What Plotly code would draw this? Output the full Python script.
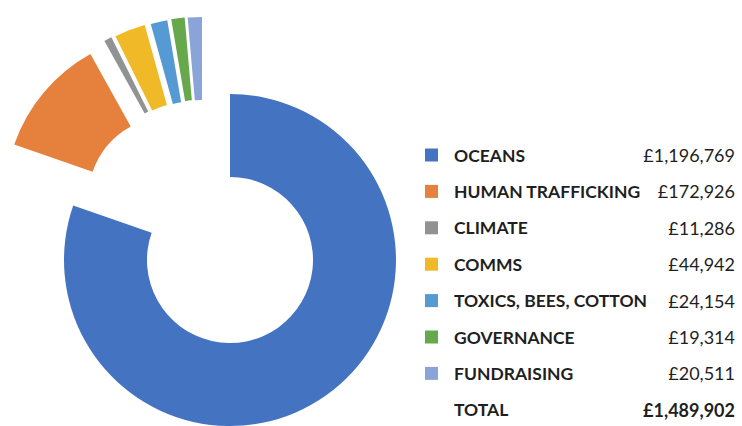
import plotly.graph_objects as go

# ---- data ----
categories = ["OCEANS", "HUMAN TRAFFICKING", "CLIMATE", "COMMS",
              "TOXICS, BEES, COTTON", "GOVERNANCE", "FUNDRAISING"]
values = [1196769, 172926, 11286, 44942, 24154, 19314, 20511]
total_label = "TOTAL"
total_value = 1489902

colors = ["#4473C1", "#E5803D", "#8F9394", "#F0B928",
          "#559AD2", "#66A84B", "#8BA4D8"]

# ---- layout (pixel geometry) ----
W, H = 742, 426
R = 166                      # outer radius in px
HOLE = 0.5
# centre of each (exploded) slice, in px
centers = [(230, 260), (171, 199), (185, 186), (189, 185),
           (195, 184), (199, 183), (202, 183)]

fig = go.Figure()
for i, (cx, cy) in enumerate(centers):
    slice_colors = [colors[j] if j == i else "rgba(0,0,0,0)" for j in range(len(values))]
    fig.add_trace(go.Pie(
        labels=categories,
        values=values,
        sort=False,
        direction="clockwise",
        rotation=0,
        hole=HOLE,
        marker=dict(colors=slice_colors, line=dict(width=0)),
        textinfo="none",
        hoverinfo="skip",
        showlegend=False,
        domain=dict(x=[(cx - R) / W, (cx + R) / W],
                    y=[1 - (cy + R) / H, 1 - (cy - R) / H]),
    ))

# ---- custom legend table ----
row0, step = 155, 36.4
sq_x0, sq_x1, sq = 425, 438, 13
label_x, value_x = 452, 737
txt_color = "#1F1F1F"
font_fam = "Lato, 'Open Sans', sans-serif"
lsize, vsize = 17.5, 18

annotations = []
shapes = []
for i, (cat, v) in enumerate(zip(categories, values)):
    y = row0 + i * step
    shapes.append(dict(type="rect", xref="paper", yref="paper",
                       x0=sq_x0 / W, x1=sq_x1 / W,
                       y0=1 - (y + sq / 2) / H, y1=1 - (y - sq / 2) / H,
                       fillcolor=colors[i], line=dict(width=0)))
    annotations.append(dict(x=label_x / W, y=1 - y / H, xref="paper", yref="paper",
                            text=f"<b>{cat}</b>", showarrow=False,
                            xanchor="left", yanchor="middle", align="left", width=220,
                            font=dict(family=font_fam, size=lsize, color=txt_color)))
    annotations.append(dict(x=value_x / W, y=1 - y / H, xref="paper", yref="paper",
                            text=f"£{v:,}", showarrow=False,
                            xanchor="right", yanchor="middle", align="right", width=120,
                            font=dict(family=font_fam, size=vsize, color=txt_color)))

y = row0 + len(categories) * step
annotations.append(dict(x=label_x / W, y=1 - y / H, xref="paper", yref="paper",
                        text=f"<b>{total_label}</b>", showarrow=False,
                        xanchor="left", yanchor="middle", align="left", width=220,
                        font=dict(family=font_fam, size=lsize, color=txt_color)))
annotations.append(dict(x=value_x / W, y=1 - y / H, xref="paper", yref="paper",
                        text=f"<b>£{total_value:,}</b>", showarrow=False,
                        xanchor="right", yanchor="middle", align="right", width=120,
                        font=dict(family=font_fam, size=vsize, color=txt_color)))

fig.update_layout(
    width=W, height=H,
    margin=dict(l=0, r=0, t=0, b=0),
    paper_bgcolor="white", plot_bgcolor="white",
    annotations=annotations, shapes=shapes,
)

fig.write_html("out.html",
               config={"displayModeBar": False},
               post_script="document.body.style.margin='0';document.body.style.overflow='hidden';")
